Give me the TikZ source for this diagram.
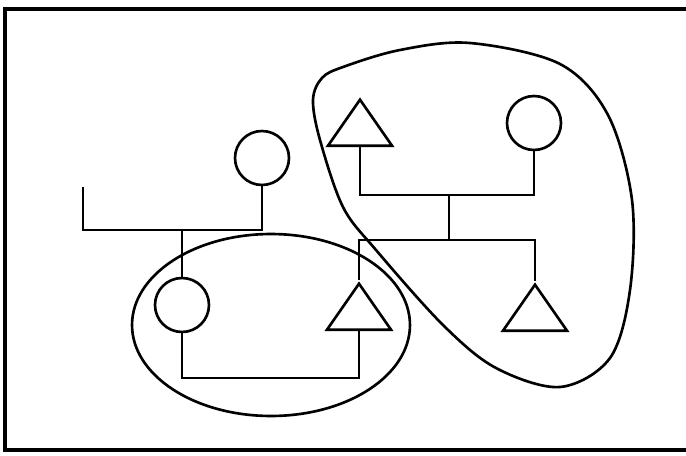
\documentclass[tikz,border=0pt]{standalone}
\usepackage{tikz}
\usetikzlibrary{shapes.geometric,positioning}
\tikzset{
  member/.style={draw=black, circle, minimum size=1.08cm, inner sep=0pt, line width=1.5pt},
  tri/.style={draw=black, isosceles triangle, isosceles triangle stretches, shape border rotate=90, minimum width=1.28cm, minimum height=0.92cm, inner sep=0pt, line width=1.5pt},
  link/.style={line width=1.5pt},
  group/.style={draw=black, line width=1.5pt},
  frame/.style={line width=2pt}
}
\begin{document}
\begin{tikzpicture}[x=0.02cm, y=-0.02cm]
\useasboundingbox (0,0) rectangle (686,456);
\draw[frame] (700,9) -- (5,9) -- (5,450) -- (700,450);
% members
\node[member] (cT) at (262,158) {};
\node[member] (cL) at (182,305) {};
\node[member] (cR) at (534,123) {};
\node[tri, anchor=lower side] (tT) at (360,147) {};
\node[tri, anchor=lower side] (tM) at (359,331) {};
\node[tri, anchor=lower side] (tR) at (535,332) {};
% junction points
\coordinate (stub) at (83,187);
\coordinate (m1) at (262,230);
\coordinate (m2) at (270,378);
\coordinate (m3) at (449,240);
\coordinate (m4) at (449,195);
% lines
\draw[link] (stub) |- (m1) -- (cT);
\draw[link] (cL) -- (cL |- m1);
\draw[link] (cL) |- (m2) -| (tM);
\draw[link] (tM) |- (m3) -| (tR);
\draw[link] (m3) -- (m4);
\draw[link] (tT) |- (m4) -| (cR);
% groups
\node[group, ellipse, minimum width=5.56cm, minimum height=3.64cm] (grpL) at (271,325) {};
\draw[group] plot[smooth cycle, tension=0.55] coordinates {
  (470,43) (560,64) (608,115) (632,200) (630,290) (610,358) (560,387)
  (496,368) (443,325) (376,250) (343,207) (320,140) (313,100) (322,78)
  (343,67) (400,50)};
\end{tikzpicture}
\end{document}
